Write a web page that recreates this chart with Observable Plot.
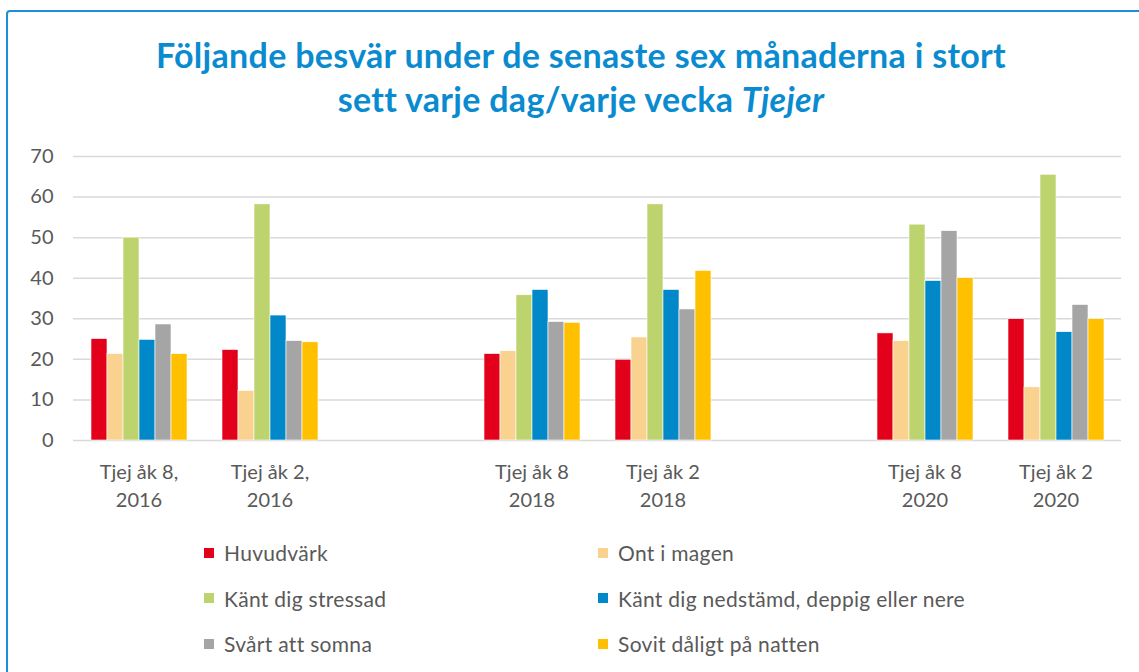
<!DOCTYPE html>
<html><head><meta charset="utf-8">
<script src="https://cdn.jsdelivr.net/npm/d3@7"></script>
<script src="https://cdn.jsdelivr.net/npm/@observablehq/plot@0.6"></script>
<style>
body{margin:0;background:#fff;font-family:Lato,sans-serif;width:1139px;height:672px;overflow:hidden;position:relative;}
#frame{position:absolute;left:6px;top:10px;width:1160px;height:700px;border:2px solid #1c8fd6;border-radius:4px;box-sizing:border-box;}
#title{position:absolute;left:0;top:33px;width:1162px;text-align:center;color:#0a8bcf;font-weight:bold;font-size:34px;letter-spacing:0.3px;line-height:44px;}
#chart{position:absolute;left:0;top:140px;}
#legend{position:absolute;left:204px;top:530px;display:grid;grid-template-columns:394px 400px;grid-auto-rows:45.5px;color:#595959;font-size:21px;letter-spacing:0.3px;}
#legend .it{display:flex;align-items:center;}
#legend .sw{width:10px;height:10px;margin-right:10px;}
</style></head>
<body>
<div id="frame"></div>
<div id="title">Följande besvär under de senaste sex månaderna i stort<br>sett varje dag/varje vecka <i>Tjejer</i></div>
<div id="chart"></div>
<div id="legend"></div>
<script>
const categories = ["Tjej åk 8,\n2016","Tjej åk 2,\n2016"," ","Tjej åk 8\n2018","Tjej åk 2\n2018","  ","Tjej åk 8\n2020","Tjej åk 2\n2020"];
const dataCategories = ["Tjej åk 8,\n2016","Tjej åk 2,\n2016","Tjej åk 8\n2018","Tjej åk 2\n2018","Tjej åk 8\n2020","Tjej åk 2\n2020"];
const series = ["Huvudvärk","Ont i magen","Känt dig stressad","Känt dig nedstämd, deppig eller nere","Svårt att somna","Sovit dåligt på natten"];
const colors = ["#e2001a","#fad28f","#bdd36e","#0088c9","#a5a5a5","#ffc000"];
const huvudvark = [25.0, 22.3, 21.3, 19.9, 26.4, 29.9];
const ontIMagen = [21.3, 12.2, 22.0, 25.4, 24.5, 13.1];
const stressad  = [50.0, 58.2, 35.8, 58.2, 53.2, 65.5];
const nedstamd  = [24.8, 30.8, 37.1, 37.1, 39.3, 26.7];
const somna     = [28.6, 24.5, 29.2, 32.3, 51.6, 33.4];
const sovit     = [21.3, 24.2, 29.0, 41.8, 40.0, 29.9];
const yTicks = [0,10,20,30,40,50,60,70];

const seriesValues = [huvudvark, ontIMagen, stressad, nedstamd, somna, sovit];
const data = [];
dataCategories.forEach((c, i) => series.forEach((s, j) => data.push({cat: c, series: s, value: seriesValues[j][i]})));
const gridData = [];
categories.forEach(c => yTicks.forEach(v => gridData.push({cat: c, v})));

const chart = Plot.plot({
  width: 1139, height: 380,
  marginLeft: 72, marginRight: 17, marginTop: 16, marginBottom: 80,
  style: {fontFamily: "Lato, sans-serif", fontSize: "19px", color: "#595959", background: "transparent"},
  fx: {domain: categories, padding: 0, label: null},
  x: {domain: series, axis: null, paddingInner: 0, paddingOuter: 0.91},
  y: {domain: [0, 70], label: null},
  color: {domain: series, range: colors},
  marks: [
    Plot.ruleY(gridData, {fx: "cat", y: "v", stroke: "#d9d9d9", strokeWidth: 1.5}),
    Plot.barY(data, {fx: "cat", x: "series", y: "value", fill: "series", stroke: "#fff", strokeWidth: 0.6}),
    Plot.axisY(yTicks, {tickSize: 0, tickPadding: 20, fontSize: 20, fill: "#595959", label: null}),
    Plot.axisFx({anchor: "bottom", tickSize: 0, tickPadding: 19, fontSize: 20, lineHeight: 1.4, fill: "#595959", label: null})
  ]
});
document.getElementById("chart").appendChild(chart);

const legend = document.getElementById("legend");
series.forEach((s, i) => {
  const it = document.createElement("div"); it.className = "it";
  const sw = document.createElement("span"); sw.className = "sw"; sw.style.background = colors[i];
  const t = document.createElement("span"); t.textContent = s;
  it.appendChild(sw); it.appendChild(t); legend.appendChild(it);
});
</script>
</body></html>
